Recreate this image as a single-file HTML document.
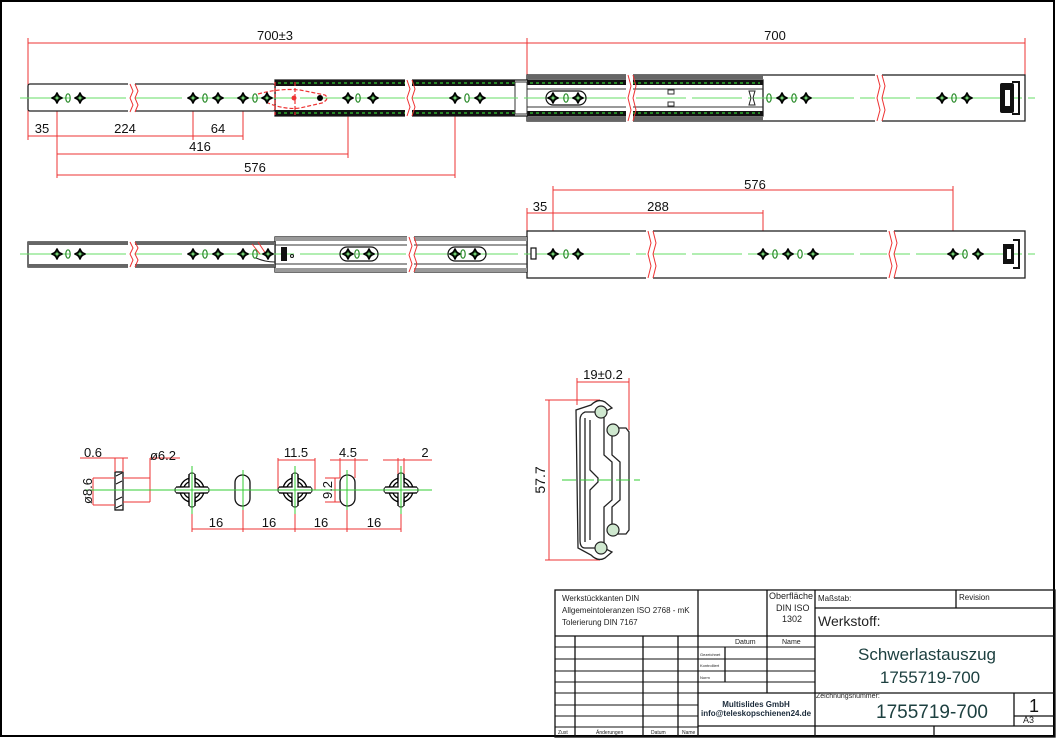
<!DOCTYPE html>
<html><head><meta charset="utf-8"><style>
html,body{margin:0;padding:0;background:#fff}
svg{display:block}
text{font-family:"Liberation Sans",sans-serif}
</style></head><body>
<svg width="1056" height="738" viewBox="0 0 1056 738" xmlns="http://www.w3.org/2000/svg">
<defs>
<g id="d"><path d="M0,-5.5 Q1,-1 5.5,0 Q1,1 0,5.5 Q-1,1 -5.5,0 Q-1,-1 0,-5.5Z" fill="#1f4d1f" stroke="#000" stroke-width="1.6"/><circle r="1.4" fill="#7c7"/></g>
<g id="o"><ellipse rx="2.2" ry="4.2" fill="none" stroke="#2a8a2a" stroke-width="1.2"/></g>
<g id="X" stroke="#000" stroke-width="1.3">
<circle r="12" fill="#fff"/><circle r="8.5" fill="#fff"/>
<rect x="-3" y="-17" width="6" height="34" rx="3" fill="#fff"/>
<rect x="-17" y="-3" width="34" height="6" rx="3" fill="#fff"/>
<rect x="-2.3" y="-16.3" width="4.6" height="32.6" fill="#fff" stroke="none"/>
<rect x="-16.3" y="-2.3" width="32.6" height="4.6" fill="#fff" stroke="none"/>
<path d="M-3,-16 V-8.5 M3,-16 V-8.5 M-3,16 V8.5 M3,16 V8.5 M-16,-3 H-8.5 M-16,3 H-8.5 M16,-3 H8.5 M16,3 H8.5" fill="none"/>
</g>
</defs>
<rect x="1" y="1" width="1053" height="735" fill="none" stroke="#000" stroke-width="2"/>

<!-- ========== TOP VIEW ========== -->
<g stroke="#e33" stroke-width="1" fill="none">
<line x1="28" y1="38" x2="28" y2="86"/><line x1="527" y1="38" x2="527" y2="76"/><line x1="1025" y1="38" x2="1025" y2="76"/>
<line x1="28" y1="43" x2="1025" y2="43"/>
<line x1="28" y1="110" x2="28" y2="140"/><line x1="57" y1="98" x2="57" y2="178"/><line x1="193" y1="98" x2="193" y2="140"/><line x1="243" y1="98" x2="243" y2="140"/><line x1="348" y1="98" x2="348" y2="158"/><line x1="455" y1="98" x2="455" y2="178"/>
<line x1="28" y1="136" x2="243" y2="136"/><line x1="57" y1="154" x2="348" y2="154"/><line x1="57" y1="175" x2="455" y2="175"/>
</g>
<g font-size="13" fill="#111" text-anchor="middle">
<text x="275" y="40">700±3</text><text x="775" y="40">700</text>
<text x="42" y="133">35</text><text x="125" y="133">224</text><text x="218" y="133">64</text><text x="200" y="151">416</text><text x="255" y="172">576</text>
</g>
<rect x="527" y="75" width="498" height="46" fill="#fff" stroke="#222" stroke-width="1.3"/>
<rect x="527" y="75" width="236" height="4" fill="#666"/><rect x="527" y="117" width="236" height="4" fill="#666"/>
<rect x="275" y="80" width="488" height="36" fill="#fff" stroke="#222" stroke-width="1.3"/>
<rect x="275" y="80" width="240" height="6" fill="#111"/><rect x="275" y="110" width="240" height="6" fill="#111"/>
<rect x="527" y="80" width="236" height="5" fill="#111"/><rect x="527" y="111" width="236" height="5" fill="#111"/>
<line x1="278" y1="83" x2="760" y2="83" stroke="#3c3" stroke-dasharray="3,3" stroke-width="1.3"/>
<line x1="278" y1="113" x2="760" y2="113" stroke="#3c3" stroke-dasharray="3,3" stroke-width="1.3"/>
<rect x="515" y="82" width="12" height="32" fill="#fff" stroke="#333"/>
<line x1="527" y1="89" x2="763" y2="89" stroke="#333"/><line x1="527" y1="107" x2="763" y2="107" stroke="#333"/>
<rect x="28" y="84" width="247" height="27" rx="2" fill="#fff" stroke="#222" stroke-width="1.3"/>
<line x1="20" y1="98" x2="1035" y2="98" stroke="#6d6" stroke-dasharray="50,6" stroke-width="1"/>
<g fill="#fff" stroke="none"><rect x="128" y="82" width="7" height="32"/><rect x="405" y="78" width="7" height="40"/><rect x="626" y="73" width="7" height="50"/><rect x="875" y="73" width="7" height="50"/></g>
<g stroke="#e33" fill="none" stroke-width="1">
<path d="M130,84 l3,7 l-3,7 l3,7 l-3,7"/><path d="M135,84 l3,7 l-3,7 l3,7 l-3,7"/>
<path d="M407,80 l3,9 l-3,9 l3,9 l-3,9"/><path d="M412,80 l3,9 l-3,9 l3,9 l-3,9"/>
<path d="M628,75 l3,11 l-3,12 l3,12 l-3,11"/><path d="M633,75 l3,11 l-3,12 l3,12 l-3,11"/>
<path d="M877,75 l3,11 l-3,12 l3,12 l-3,11"/><path d="M882,75 l3,11 l-3,12 l3,12 l-3,11"/>
</g>
<g stroke="#e33" fill="none" stroke-dasharray="4,2" stroke-width="1.2">
<path d="M258,94 Q280,88 300,90 L325,95 Q330,99 322,103 L300,108 Q285,110 268,103"/><path d="M275,82 L275,115 M295,82 L295,115"/>
</g>
<circle cx="294" cy="98" r="2.5" fill="#e33"/><circle cx="320" cy="98" r="3" fill="#000"/>
<use href="#d" x="57" y="98"/><use href="#o" x="68" y="98"/><use href="#d" x="80" y="98"/>
<use href="#d" x="193" y="98"/><use href="#o" x="205" y="98"/><use href="#d" x="218" y="98"/>
<use href="#d" x="243" y="98"/><use href="#o" x="255" y="98"/><use href="#d" x="267" y="98"/>
<use href="#d" x="348" y="98"/><use href="#o" x="358" y="98"/><use href="#d" x="373" y="98"/>
<use href="#d" x="455" y="98"/><use href="#o" x="467" y="98"/><use href="#d" x="480" y="98"/>
<rect x="546" y="91" width="40" height="14" rx="7" fill="none" stroke="#111" stroke-width="1.2"/>
<use href="#d" x="553" y="98"/><use href="#o" x="566" y="98"/><use href="#d" x="578" y="98"/>
<rect x="668" y="90" width="6" height="4" fill="none" stroke="#333"/><rect x="668" y="102" width="6" height="4" fill="none" stroke="#333"/>
<path d="M749,91 h6 l-2,7 l2,7 h-6 l2,-7z" fill="#fff" stroke="#222"/>
<use href="#o" x="769" y="98"/><use href="#d" x="782" y="98"/><use href="#o" x="794" y="98"/><use href="#d" x="806" y="98"/>
<use href="#d" x="942" y="98"/><use href="#o" x="954" y="98"/><use href="#d" x="967" y="98"/>
<rect x="1000" y="83" width="14" height="30" rx="2" fill="#111"/><rect x="1005" y="90" width="5" height="16" fill="#fff"/>
<path d="M1012,82 h7 v32 h-7" fill="none" stroke="#111" stroke-width="2"/>

<!-- ========== SECOND VIEW ========== -->
<g stroke="#e33" stroke-width="1" fill="none">
<line x1="527" y1="208" x2="527" y2="231"/><line x1="553" y1="186" x2="553" y2="254"/><line x1="763" y1="210" x2="763" y2="254"/><line x1="953" y1="186" x2="953" y2="254"/>
<line x1="553" y1="190" x2="953" y2="190"/><line x1="527" y1="213" x2="763" y2="213"/>
</g>
<g font-size="13" fill="#111" text-anchor="middle">
<text x="755" y="189">576</text><text x="540" y="211">35</text><text x="658" y="211">288</text>
</g>
<rect x="527" y="231" width="498" height="47" fill="#fff" stroke="#222" stroke-width="1.3"/>
<rect x="275" y="237" width="252" height="35" fill="#fff" stroke="#222" stroke-width="1.3"/>
<rect x="275" y="237" width="252" height="4" fill="#999"/><rect x="275" y="268" width="252" height="4" fill="#999"/>
<line x1="275" y1="245" x2="527" y2="245" stroke="#333"/><line x1="275" y1="264" x2="527" y2="264" stroke="#333"/>
<rect x="28" y="242" width="247" height="25" fill="#fff" stroke="#222" stroke-width="1.3"/>
<rect x="28" y="242" width="247" height="3" fill="#666"/><rect x="28" y="264" width="247" height="3" fill="#666"/>
<line x1="20" y1="254" x2="1035" y2="254" stroke="#6d6" stroke-dasharray="50,6" stroke-width="1"/>
<g fill="#fff" stroke="none"><rect x="128" y="240" width="7" height="29"/><rect x="407" y="235" width="7" height="39"/><rect x="646" y="229" width="7" height="51"/><rect x="887" y="229" width="7" height="51"/></g>
<g stroke="#e33" fill="none" stroke-width="1">
<path d="M130,242 l3,6 l-3,6 l3,6 l-3,7"/><path d="M135,242 l3,6 l-3,6 l3,6 l-3,7"/>
<path d="M409,237 l3,9 l-3,9 l3,9 l-3,8"/><path d="M414,237 l3,9 l-3,9 l3,9 l-3,8"/>
<path d="M648,231 l3,12 l-3,11 l3,12 l-3,12"/><path d="M653,231 l3,12 l-3,11 l3,12 l-3,12"/>
<path d="M889,231 l3,12 l-3,11 l3,12 l-3,12"/><path d="M894,231 l3,12 l-3,11 l3,12 l-3,12"/>
<path d="M252,244 l8,10 M258,242 l8,12"/>
</g>
<path d="M256,258 Q265,262 275,262" fill="none" stroke="#222"/>
<rect x="281" y="247" width="6" height="14" fill="#111"/><circle cx="292" cy="256" r="1.5" fill="none" stroke="#111"/>
<use href="#d" x="57" y="254"/><use href="#o" x="68" y="254"/><use href="#d" x="80" y="254"/>
<use href="#d" x="193" y="254"/><use href="#o" x="205" y="254"/><use href="#d" x="218" y="254"/>
<use href="#d" x="243" y="254"/><use href="#o" x="255" y="254"/><use href="#d" x="268" y="254"/>
<rect x="340" y="247" width="38" height="14" rx="7" fill="none" stroke="#111" stroke-width="1.2"/>
<use href="#d" x="348" y="254"/><use href="#o" x="357" y="254"/><use href="#d" x="369" y="254"/>
<rect x="448" y="247" width="38" height="14" rx="7" fill="none" stroke="#111" stroke-width="1.2"/>
<use href="#d" x="455" y="254"/><use href="#o" x="463" y="254"/><use href="#d" x="475" y="254"/>
<rect x="531" y="248" width="5" height="11" fill="#fff" stroke="#111" stroke-width="1.2"/>
<use href="#d" x="553" y="254"/><use href="#o" x="566" y="254"/><use href="#d" x="578" y="254"/>
<use href="#d" x="763" y="254"/><use href="#o" x="775" y="254"/><use href="#d" x="788" y="254"/><use href="#o" x="800" y="254"/><use href="#d" x="813" y="254"/>
<use href="#d" x="953" y="254"/><use href="#o" x="965" y="254"/><use href="#d" x="978" y="254"/>
<rect x="1003" y="244" width="11" height="20" fill="#111"/><rect x="1007" y="249" width="4" height="10" fill="#fff"/>
<path d="M1013,240 h6 v28 h-6" fill="none" stroke="#111" stroke-width="2"/>

<!-- ========== DETAILS ========== -->
<rect x="115" y="472" width="8" height="38" fill="#fff" stroke="#111" stroke-width="1.3"/>
<path d="M116,476 l6,-3 M116,484 l6,-3 M116,500 l6,-3 M116,508 l6,-3" stroke="#111"/>
<g stroke="#e33" fill="none" stroke-width="1">
<line x1="80" y1="458" x2="128" y2="458"/><line x1="115" y1="458" x2="115" y2="472"/><line x1="123" y1="458" x2="123" y2="472"/>
<line x1="150" y1="458" x2="180" y2="458"/><line x1="150" y1="458" x2="150" y2="502"/><line x1="123" y1="478" x2="150" y2="478"/><line x1="123" y1="502" x2="150" y2="502"/>
<line x1="93" y1="478" x2="115" y2="478"/><line x1="93" y1="505" x2="115" y2="505"/><line x1="93" y1="478" x2="93" y2="505"/>
<line x1="192" y1="505" x2="192" y2="532"/><line x1="243" y1="505" x2="243" y2="532"/><line x1="295" y1="505" x2="295" y2="532"/><line x1="347" y1="505" x2="347" y2="532"/><line x1="401" y1="505" x2="401" y2="532"/>
<line x1="192" y1="529" x2="401" y2="529"/>
<line x1="278" y1="458" x2="278" y2="490"/><line x1="315" y1="458" x2="315" y2="490"/><line x1="278" y1="460" x2="315" y2="460"/>
<line x1="340" y1="458" x2="340" y2="478"/><line x1="355" y1="458" x2="355" y2="478"/><line x1="330" y1="460" x2="368" y2="460"/>
<line x1="325" y1="478" x2="340" y2="478"/><line x1="325" y1="502" x2="340" y2="502"/><line x1="335" y1="478" x2="335" y2="502"/>
<line x1="398" y1="458" x2="398" y2="475"/><line x1="404" y1="458" x2="404" y2="475"/><line x1="383" y1="460" x2="432" y2="460"/>
</g>
<use href="#X" x="192" y="490"/><use href="#X" x="295" y="490"/><use href="#X" x="401" y="490"/>
<rect x="235" y="475" width="15" height="31" rx="7.5" fill="#fff" stroke="#111" stroke-width="1.3"/>
<rect x="340" y="475" width="15" height="31" rx="7.5" fill="#fff" stroke="#111" stroke-width="1.3"/>
<line x1="85" y1="490" x2="432" y2="490" stroke="#3c3"/>
<g stroke="#3c3"><line x1="192" y1="466" x2="192" y2="514"/><line x1="243" y1="470" x2="243" y2="510"/><line x1="295" y1="466" x2="295" y2="514"/><line x1="347" y1="470" x2="347" y2="510"/><line x1="401" y1="466" x2="401" y2="514"/></g>
<g font-size="13" fill="#111" text-anchor="middle">
<text x="93" y="457">0.6</text><text x="163" y="460">ø6.2</text><text x="296" y="457">11.5</text><text x="348" y="457">4.5</text><text x="425" y="457">2</text>
<text x="216" y="527">16</text><text x="269" y="527">16</text><text x="321" y="527">16</text><text x="374" y="527">16</text>
<text transform="translate(92,491) rotate(-90)">ø8.6</text><text transform="translate(332,490) rotate(-90)">9.2</text>
</g>

<!-- cross-section -->
<g stroke="#e33" fill="none" stroke-width="1">
<line x1="577" y1="378" x2="577" y2="405"/><line x1="629" y1="378" x2="629" y2="430"/><line x1="577" y1="382" x2="629" y2="382"/>
<line x1="545" y1="400" x2="600" y2="400"/><line x1="545" y1="560" x2="600" y2="560"/><line x1="549" y1="400" x2="549" y2="560"/>
</g>
<text x="603" y="379" font-size="13" text-anchor="middle" fill="#111">19±0.2</text>
<text transform="translate(545,480) rotate(-90)" font-size="14" text-anchor="middle" fill="#111">57.7</text>
<g fill="none" stroke="#222" stroke-width="1.3">
<path d="M591,405 Q598,398 605,402 L612,408 L604,412 L585,412 Q580,414 580,420 L580,540 Q580,548 585,548 L604,548 L612,552 L605,558 Q598,562 591,555 L578,548 L576,410z"/>
<path d="M585,418 L585,542 M590,420 L590,470 L598,478 L598,482 L590,490 L590,540"/>
<path d="M596,416 L604,416 L604,455 L612,462 L612,500 L604,507 L604,545 L596,545"/>
<path d="M608,428 L626,428 L629,432 L629,530 L626,534 L608,534"/>
<path d="M612,428 L612,455 L620,462 L620,500 L612,507 L612,534"/>
</g>
<g fill="#cfe8cf" stroke="#222" stroke-width="1.2">
<circle cx="601" cy="412" r="6"/><circle cx="613" cy="430" r="6"/><circle cx="613" cy="530" r="6"/><circle cx="601" cy="548" r="6"/>
</g>
<line x1="562" y1="480" x2="640" y2="480" stroke="#3c3" stroke-dasharray="14,4"/>

<!-- ========== TITLE BLOCK ========== -->
<g stroke="#111" stroke-width="1.3" fill="none">
<rect x="555" y="590" width="500" height="147"/>
<line x1="555" y1="636" x2="815" y2="636"/>
<line x1="698" y1="590" x2="698" y2="737"/><line x1="767" y1="590" x2="767" y2="693"/><line x1="815" y1="590" x2="815" y2="737"/>
<line x1="956" y1="590" x2="956" y2="608"/><line x1="815" y1="608" x2="1055" y2="608"/><line x1="815" y1="636" x2="1055" y2="636"/>
<line x1="815" y1="693" x2="1055" y2="693"/><line x1="698" y1="693" x2="815" y2="693"/>
<line x1="698" y1="726" x2="1055" y2="726"/><line x1="934" y1="726" x2="934" y2="737"/>
<line x1="1014" y1="693" x2="1014" y2="726"/><line x1="1014" y1="716" x2="1055" y2="716"/>
<line x1="575" y1="636" x2="575" y2="737"/><line x1="643" y1="636" x2="643" y2="737"/><line x1="678" y1="636" x2="678" y2="737"/>
<line x1="725" y1="647" x2="725" y2="682"/>
</g>
<g stroke="#111" stroke-width="1">
<line x1="555" y1="647" x2="815" y2="647"/><line x1="555" y1="659" x2="815" y2="659"/><line x1="555" y1="671" x2="815" y2="671"/><line x1="555" y1="682" x2="815" y2="682"/>
<line x1="555" y1="693" x2="698" y2="693"/><line x1="555" y1="705" x2="698" y2="705"/><line x1="555" y1="716" x2="698" y2="716"/><line x1="555" y1="727" x2="698" y2="727"/>
</g>
<g fill="#222" font-size="8">
<text x="562" y="601">Werkstückkanten DIN</text>
<text x="562" y="613">Allgemeintoleranzen ISO 2768 - mK</text>
<text x="562" y="625">Tolerierung DIN 7167</text>
<text x="769" y="599" font-size="9">Oberfläche</text><text x="776" y="611" font-size="9">DIN ISO</text><text x="782" y="622" font-size="9">1302</text>
<text x="818" y="601">Maßstab:</text><text x="959" y="600">Revision</text>
<text x="735" y="644" font-size="7">Datum</text><text x="782" y="644" font-size="7">Name</text>
<text x="700" y="656" font-size="4">Gezeichnet</text><text x="700" y="667" font-size="4">Kontrolliert</text><text x="700" y="679" font-size="4">Norm</text>
<text x="558" y="734" font-size="5">Zust</text><text x="596" y="734" font-size="5">Änderungen</text><text x="651" y="734" font-size="5">Datum</text><text x="682" y="734" font-size="5">Name</text>
<text x="816" y="698" font-size="7">Zeichnungsnummer:</text>
<text x="1023" y="723" font-size="9">A3</text>
</g>
<text x="818" y="626" font-size="14" fill="#222">Werkstoff:</text>
<text x="927" y="660" font-size="17" text-anchor="middle" fill="#1d4040">Schwerlastauszug</text>
<text x="930" y="683" font-size="17" text-anchor="middle" fill="#1d4040">1755719-700</text>
<text x="932" y="718" font-size="19" text-anchor="middle" fill="#1d4040">1755719-700</text>
<text x="1034" y="712" font-size="18" text-anchor="middle" fill="#111">1</text>
<text x="756" y="707" font-size="8" font-weight="bold" text-anchor="middle" fill="#1a2a3a">Multislides GmbH</text>
<text x="756" y="716" font-size="8" font-weight="bold" text-anchor="middle" fill="#1a2a3a">info@teleskopschienen24.de</text>
</svg>
</body></html>
